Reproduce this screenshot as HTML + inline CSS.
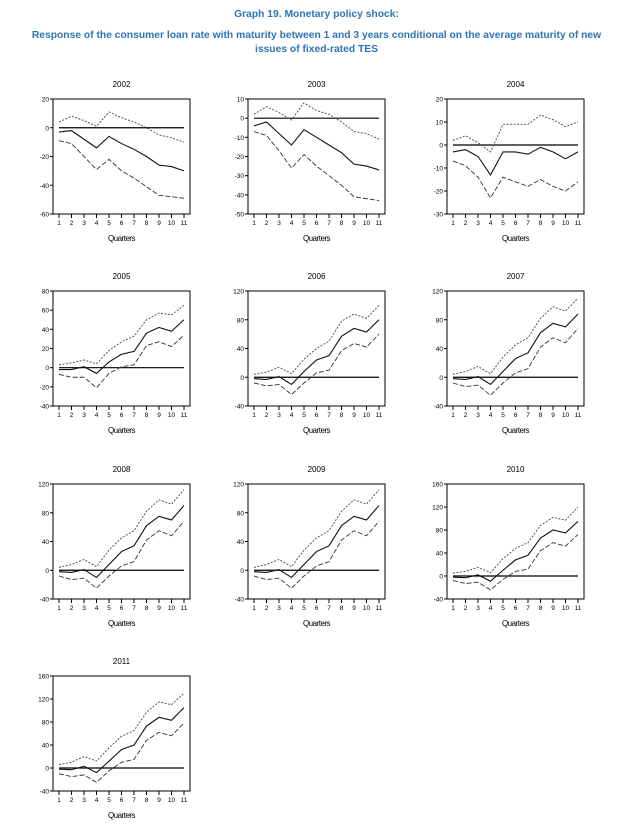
<!DOCTYPE html>
<html><head><meta charset="utf-8"><style>
body{margin:0;background:#fff;width:633px;height:829px;overflow:hidden;font-family:"Liberation Sans",sans-serif}
.t{position:absolute;left:0;width:633px;text-align:center;color:#2e74b5;font-weight:bold;font-size:10.3px;line-height:14px;white-space:nowrap}
</style></head><body>
<div class="t" style="top:8px">Graph 19. Monetary policy shock:</div>
<div class="t" style="top:29px">Response of the consumer loan rate with maturity between 1 and 3 years conditional on the average maturity of new<br>issues of fixed-rated TES</div>
<svg id="s" width="633" height="829" style="position:absolute;left:0;top:0"></svg>
<script>
const A=[-40,0,40,80,120],B=[-40,0,40,80,120,160];
const P=[
["2002",[-60,-40,-20,0,20],[4,8,5,1,11,7,4,0,-5,-7,-10],[-3,-2,-8,-14,-6,-11,-15,-20,-26,-27,-30],[-9,-11,-20,-29,-22,-30,-35,-41,-47,-48,-49]],
["2003",[-50,-40,-30,-20,-10,0,10],[2,6,3,-1,8,4,2,-2,-7,-8,-11],[-4,-2,-8,-14,-6,-10,-14,-18,-24,-25,-27],[-7,-9,-17,-26,-19,-25,-30,-35,-41,-42,-43]],
["2004",[-30,-20,-10,0,10,20],[2,4,1,-3,9,9,9,13,11,8,10],[-3,-2,-5,-13,-3,-3,-4,-1,-3,-6,-3],[-7,-9,-14,-23,-14,-16,-18,-15,-18,-20,-16]],
["2005",[-40,-20,0,20,40,60,80],[3,5,8,4,18,27,33,50,57,55,65],[-2,-2,1,-6,6,14,17,36,42,38,50],[-7,-10,-10,-21,-6,1,3,23,27,22,34]],
["2006",A,[4,7,14,5,25,40,50,78,88,82,100],[-2,-3,1,-10,8,24,30,57,68,63,80],[-8,-12,-10,-24,-8,6,10,37,47,42,60]],
["2007",A,[4,8,15,5,28,45,55,82,98,92,110],[-2,-3,1,-10,8,26,34,62,75,70,88],[-8,-13,-11,-25,-8,6,12,42,55,48,68]],
["2008",A,[4,8,15,5,28,45,55,82,98,92,112],[-2,-3,1,-10,8,26,34,62,75,70,90],[-8,-13,-11,-25,-8,6,12,42,55,48,68]],
["2009",A,[4,8,15,5,28,45,55,82,98,92,112],[-2,-3,1,-10,8,26,34,62,75,70,90],[-8,-13,-11,-25,-8,6,12,42,55,48,68]],
["2010",B,[5,8,15,6,30,48,58,88,102,97,120],[-2,-3,2,-9,10,28,36,66,80,75,95],[-8,-13,-11,-24,-6,8,12,44,58,52,72]],
["2011",B,[6,10,20,12,35,55,65,97,115,110,130],[-2,-3,3,-8,12,32,40,73,88,83,105],[-10,-15,-12,-25,-5,10,15,48,62,56,78]]];
const X=[53,248,447],Y=[99,291,484,676];
let h="";
P.forEach((p,i)=>{
 const x0=X[i%3],y0=Y[Math.floor(i/3)],w=137,hh=115;
 const t=p[1],mn=t[0],mx=t[t.length-1];
 const sy=v=>y0+(mx-v)/(mx-mn)*hh, sx=k=>x0+6+k*(w-12)/10;
 h+=`<text x="${x0+w/2}" y="${y0-12}" font-size="8" text-anchor="middle">${p[0]}</text>`;
 h+=`<rect x="${x0}" y="${y0}" width="${w}" height="${hh}" fill="none" stroke="#000" stroke-width="1"/>`;
 t.forEach(v=>{const y=sy(v);h+=`<line x1="${x0-3}" x2="${x0}" y1="${y}" y2="${y}" stroke="#000"/><text x="${x0-4}" y="${y+2.5}" font-size="6.5" text-anchor="end">${v}</text>`;});
 for(let k=0;k<11;k++){const x=sx(k);h+=`<line x1="${x}" x2="${x}" y1="${y0+hh}" y2="${y0+hh+4}" stroke="#000"/><text x="${x}" y="${y0+hh+11}" font-size="6.5" text-anchor="middle">${k+1}</text>`;}
 h+=`<text x="${x0+w/2}" y="${y0+hh+27}" font-size="8" text-anchor="middle" letter-spacing="-0.5">Quarters</text>`;
 h+=`<line x1="${sx(0)}" x2="${sx(10)}" y1="${sy(0)}" y2="${sy(0)}" stroke="#000" stroke-width="1.2"/>`;
 const pl=(d,st)=>`<polyline fill="none" points="${d.map((v,k)=>sx(k)+","+sy(v)).join(" ")}" ${st}/>`;
 h+=pl(p[2],'stroke="#444" stroke-width="0.9" stroke-dasharray="2,1.5"');
 h+=pl(p[3],'stroke="#111" stroke-width="1.1"');
 h+=pl(p[4],'stroke="#333" stroke-width="0.9" stroke-dasharray="5,2"');
});
document.getElementById("s").innerHTML=h;
</script>
</body></html>
